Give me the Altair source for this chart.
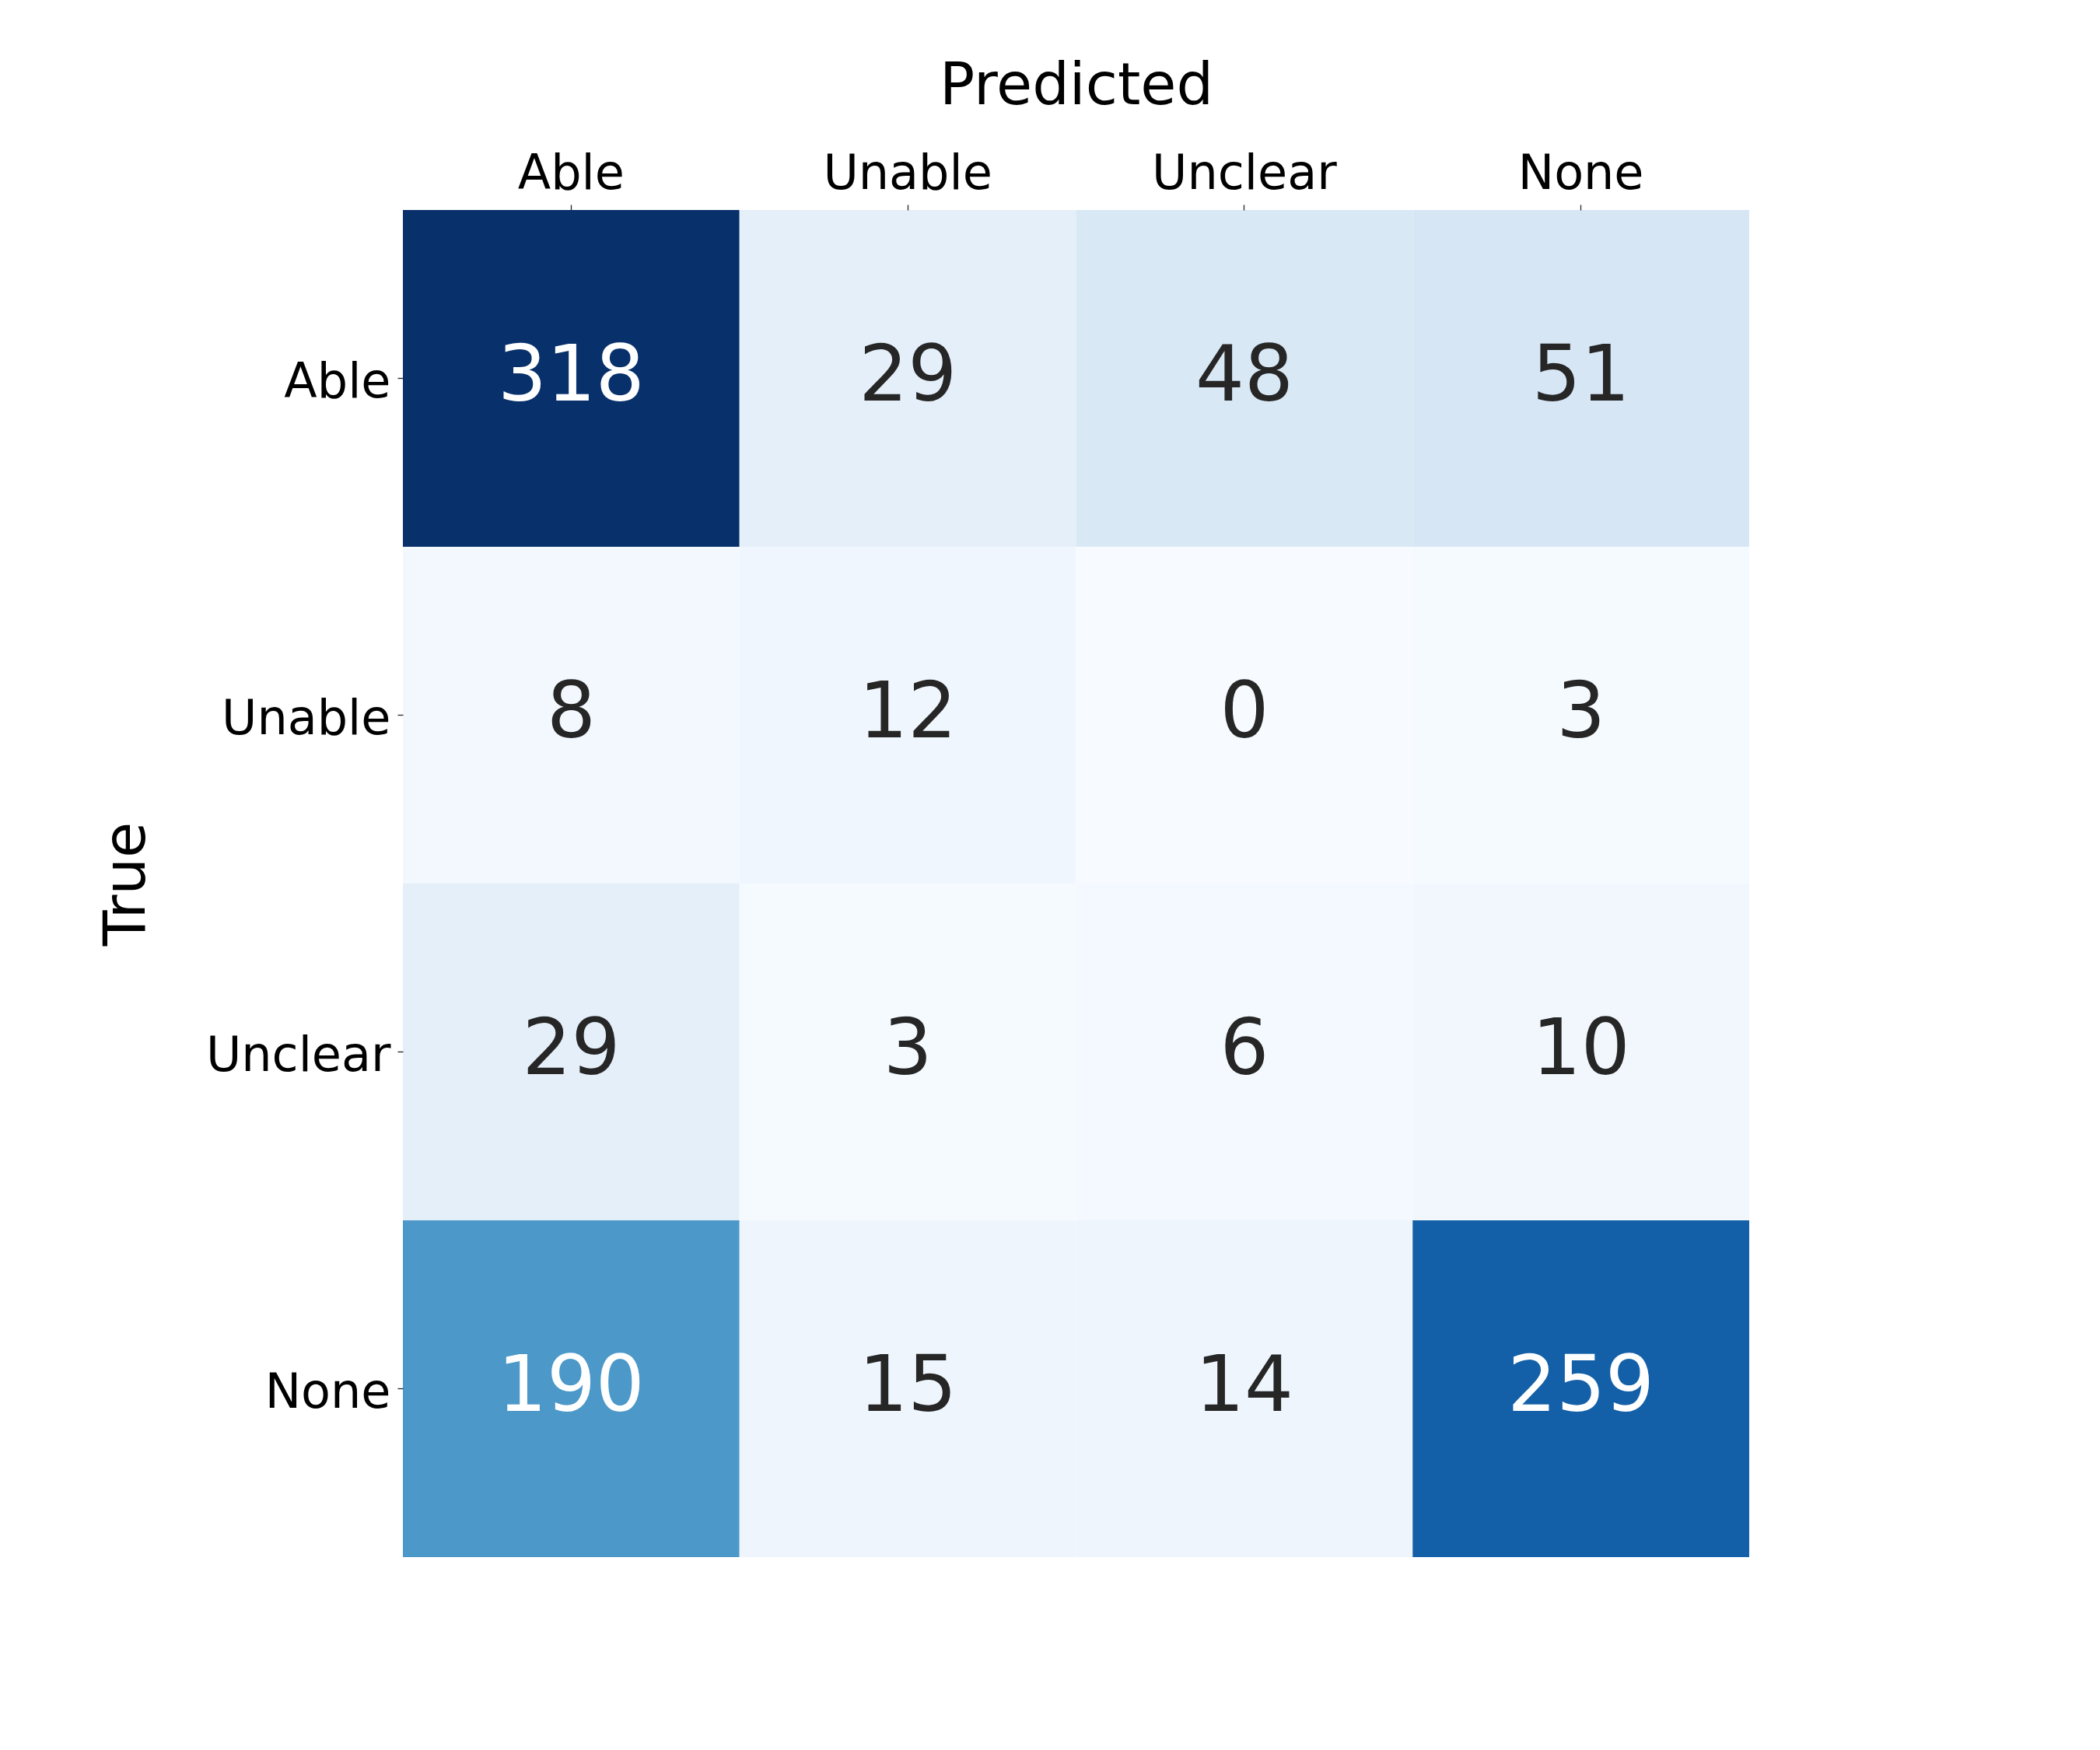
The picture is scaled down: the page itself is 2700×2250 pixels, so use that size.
import altair as alt
import pandas as pd

categories = ["Able", "Unable", "Unclear", "None"]
true_labels = ["Able", "Unable", "Unclear", "None"]
row_able = [318, 29, 48, 51]
row_unable = [8, 12, 0, 3]
row_unclear = [29, 3, 6, 10]
row_none = [190, 15, 14, 259]

blues = ["#f7fbff", "#deebf7", "#c6dbef", "#9ecae1", "#6baed6",
         "#4292c6", "#2171b5", "#08519c", "#08306b"]
vmax = 318

rows = [row_able, row_unable, row_unclear, row_none]
records = []
for t, vals in zip(true_labels, rows):
    for p, v in zip(categories, vals):
        records.append({"True": t, "Predicted": p, "count": v})
df = pd.DataFrame(records)

W, H = 1731, 1732
FONT = "DejaVu Sans"

domain = [vmax * i / 8 for i in range(9)]

base = alt.Chart(df).encode(
    x=alt.X("Predicted:N", sort=categories,
            scale=alt.Scale(paddingInner=0, paddingOuter=0),
            axis=alt.Axis(orient="top", title="Predicted", labelAngle=0,
                          labelFontSize=62, labelFont=FONT, labelColor="#000000",
                          labelLimit=0,
                          labelPadding=8, tickSize=7, tickWidth=1.3, tickColor="#262626",
                          domain=False, grid=False,
                          titleFontSize=75, titleFont=FONT, titleFontWeight="normal",
                          titleColor="#000000", titleX=W / 2, titleY=-137,
                          titleBaseline="alphabetic", titleAlign="center")),
    y=alt.Y("True:N", sort=true_labels,
            scale=alt.Scale(paddingInner=0, paddingOuter=0),
            axis=alt.Axis(title="True", labelFontSize=62, labelFont=FONT,
                          labelColor="#000000", labelPadding=9, tickSize=7,
                          labelLimit=0, labelOffset=5,
                          tickWidth=1.3, tickColor="#262626", domain=False, grid=False,
                          labelBaseline="middle",
                          titleFontSize=75, titleFont=FONT, titleFontWeight="normal",
                          titleColor="#000000", titleX=-333, titleY=H / 2,
                          titleAngle=270, titleBaseline="alphabetic", titleAlign="center")),
)

rects = base.mark_rect(strokeWidth=0).encode(
    color=alt.Color("count:Q",
                    scale=alt.Scale(type="linear", domain=domain, range=blues),
                    legend=None)
)

texts = base.mark_text(fontSize=99, font=FONT, align="center",
                       baseline="alphabetic", dy=28).encode(
    text=alt.Text("count:Q"),
    color=alt.condition(alt.datum.count > 150, alt.value("#ffffff"), alt.value("#262626")),
)

chart = alt.layer(rects, texts).properties(
    width=W, height=H,
    autosize=alt.AutoSizeParams(type="none"),
    padding={"left": 510, "top": 262, "right": 430, "bottom": 220},
    background="#ffffff",
).configure_view(strokeWidth=0)

chart.save("out.html", embed_options={"renderer": "svg", "actions": False})
